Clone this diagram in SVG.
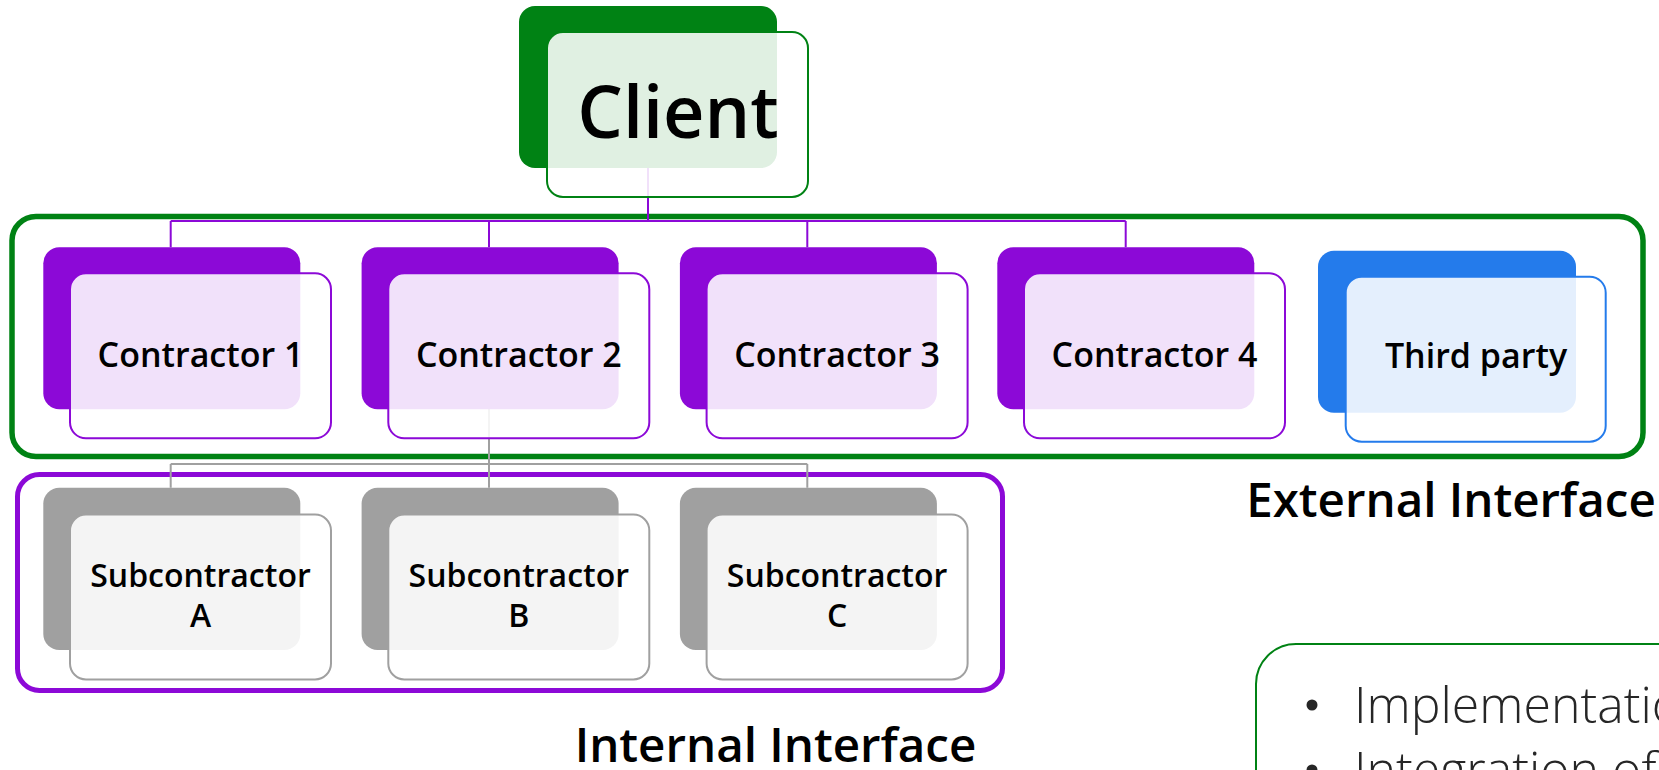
<svg xmlns="http://www.w3.org/2000/svg" width="1659" height="770" viewBox="0 0 1659 770">
<style>
.lbl{font-family:"Open Sans","Noto Sans","Liberation Sans",sans-serif;font-weight:600;fill:#000;text-anchor:middle}
.front{fill:#fff;fill-opacity:0.88;stroke-width:2}
.g-back{fill:#008214}.g-front{stroke:#008214}
.p-back{fill:#8C09D7}.p-front{stroke:#8C09D7}
.b-back{fill:#247BEB}.b-front{stroke:#247BEB}
.s-back{fill:#A0A0A0}.s-front{stroke:#A0A0A0}
.conn-p{fill:none;stroke:#8C09D7;stroke-width:2}
.conn-s{fill:none;stroke:#A0A0A0;stroke-width:2}
.n{font-size:34px}
.sub{font-size:32px}
</style>
<rect width="1659" height="770" fill="#fff"/>
<g id="external-interface">
<rect x="12" y="216.5" width="1631" height="240" rx="24" fill="none" stroke="#008214" stroke-width="5.5"/>
<text class="lbl" x="1451" y="517" font-size="47.5">External Interface</text>
</g>
<g id="internal-interface">
<rect x="17.5" y="474.5" width="985" height="216" rx="22" fill="none" stroke="#8C09D7" stroke-width="5"/>
<text class="lbl" x="775.5" y="762" font-size="47.5">Internal Interface</text>
</g>
<g id="connectors">
<path class="conn-p" d="M648,168V221M170.7,221H1125.7M170.7,221V247.3M489,221V247.3M807.3,221V247.3M1125.7,221V247.3"/>
<path class="conn-s" d="M489,409V464M170.7,464H807.3M170.7,464V487.7M489,464V487.7M807.3,464V487.7"/>
</g>
<g id="client">
<rect class="g-back" x="519" y="6" width="258" height="162" rx="16"/>
<rect class="front g-front" x="547" y="32" width="261" height="165" rx="16"/>
<text class="lbl" x="678" y="138" font-size="72">Client</text>
</g>
<g id="contractor1">
<rect class="p-back" x="43.3" y="247.3" width="257" height="162" rx="16"/>
<rect class="front p-front" x="70" y="273.3" width="261" height="165" rx="16"/>
<text class="lbl n" x="200.5" y="367">Contractor 1</text>
</g>
<g id="contractor2">
<rect class="p-back" x="361.6" y="247.3" width="257" height="162" rx="16"/>
<rect class="front p-front" x="388.3" y="273.3" width="261" height="165" rx="16"/>
<text class="lbl n" x="518.8" y="367">Contractor 2</text>
</g>
<g id="contractor3">
<rect class="p-back" x="679.9" y="247.3" width="257" height="162" rx="16"/>
<rect class="front p-front" x="706.6" y="273.3" width="261" height="165" rx="16"/>
<text class="lbl n" x="837.1" y="367">Contractor 3</text>
</g>
<g id="contractor4">
<rect class="p-back" x="997.3" y="247.3" width="257" height="162" rx="16"/>
<rect class="front p-front" x="1024" y="273.3" width="261" height="165" rx="16"/>
<text class="lbl n" x="1154.5" y="367">Contractor 4</text>
</g>
<g id="third-party">
<rect class="b-back" x="1318" y="250.7" width="258" height="162" rx="16"/>
<rect class="front b-front" x="1345.7" y="276.7" width="260" height="165" rx="16"/>
<text class="lbl n" x="1476" y="368">Third party</text>
</g>
<g id="subcontractorA">
<rect class="s-back" x="43.3" y="487.7" width="257" height="162.3" rx="16"/>
<rect class="front s-front" x="70" y="514.5" width="261" height="165" rx="16"/>
<text class="lbl sub" x="200.5" y="587">Subcontractor<tspan x="200.5" y="627">A</tspan></text>
</g>
<g id="subcontractorB">
<rect class="s-back" x="361.6" y="487.7" width="257" height="162.3" rx="16"/>
<rect class="front s-front" x="388.3" y="514.5" width="261" height="165" rx="16"/>
<text class="lbl sub" x="518.8" y="587">Subcontractor<tspan x="518.8" y="627">B</tspan></text>
</g>
<g id="subcontractorC">
<rect class="s-back" x="679.9" y="487.7" width="257" height="162.3" rx="16"/>
<rect class="front s-front" x="706.6" y="514.5" width="261" height="165" rx="16"/>
<text class="lbl sub" x="837.1" y="587">Subcontractor<tspan x="837.1" y="627">C</tspan></text>
</g>
<g id="notes">
<rect x="1256" y="644" width="500" height="200" rx="40" fill="#fff" stroke="#008214" stroke-width="2"/>
<g font-family="'Open Sans','Noto Sans','Liberation Sans',sans-serif" font-weight="300" font-size="50" fill="#262626">
<circle cx="1312" cy="705" r="5.5" fill="#262626"/>
<text x="1354" y="723">Implementation</text>
<circle cx="1312" cy="770" r="5.5" fill="#262626"/>
<text x="1354" y="788">Integration of</text>
</g>
</g>
</svg>
